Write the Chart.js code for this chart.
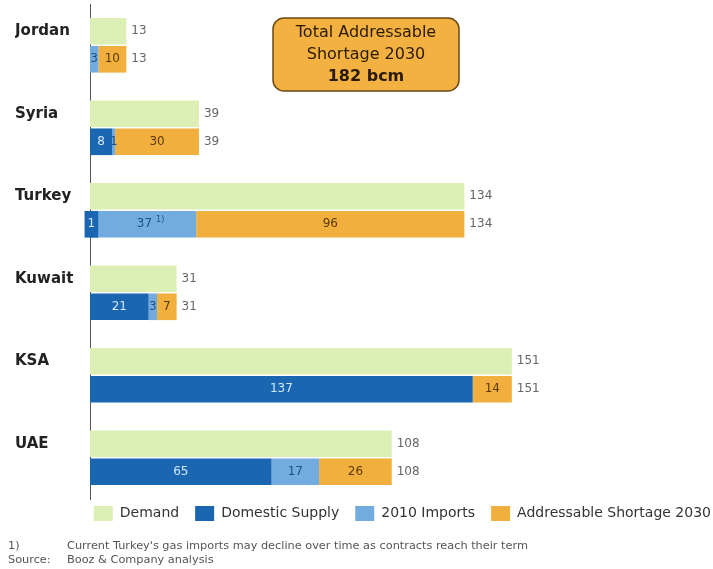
<!DOCTYPE html>
<html>
<head>
<meta charset="utf-8">
<script src="https://cdn.jsdelivr.net/npm/chart.js@4.4.1/dist/chart.umd.min.js"></script>
<style>
  html, body { margin: 0; padding: 0; background: #fff; }
  #wrap { width: 713px; height: 569px; position: relative; }
</style>
</head>
<body>
<div id="wrap"><canvas id="myChart"></canvas></div>
<script>
// Gas demand vs supply (bcm), 2030
const countries = ['Jordan', 'Syria', 'Turkey', 'Kuwait', 'KSA', 'UAE'];
const demand = [13, 39, 134, 31, 151, 108];
const domestic = [0, 8, 1, 21, 137, 65];
const imports2010 = [3, 1, 37, 3, 0, 17];
const shortage = [10, 30, 96, 7, 14, 26];
const boxLines = ['Total Addressable', 'Shortage 2030', '182 bcm'];
const footnotes = [
    ['1)', "Current Turkey's gas imports may decline over time as contracts reach their term"],
    ['Source:', 'Booz & Company analysis']
];

const FONT = "'DejaVu Sans', Verdana, sans-serif";

// inside label colours per dataset (demand has none)
const insideColors = [null, '#d2e8ff', '#1d4f8a', '#5a3a00'];

// Labels inside segments and totals at the end of each bar
const labelPlugin = {
    id: 'barLabels',
    afterLayout(chart) {
        // nudge the legend row (labels.padding also sets the item gaps)
        chart.legend.top -= 9;
        chart.legend.bottom -= 9;
        chart.legend.left += 14;
        chart.legend.right += 14;
    },
    afterDatasetsDraw(chart) {
        const ctx = chart.ctx;
        ctx.save();
        ctx.font = '12px ' + FONT;
        ctx.textBaseline = 'middle';
        for (let i = 0; i < countries.length; i++) {
            // segment labels
            for (let d = 1; d < 4; d++) {
                const bar = chart.getDatasetMeta(d).data[i];
                const v = chart.data.datasets[d].data[i];
                if (!v) continue;
                const left = Math.min(bar.x, bar.base);
                const right = Math.max(bar.x, bar.base);
                const cx = (left + right) / 2;
                const txt = String(v);
                const tw = ctx.measureText(txt).width;
                if (d === 1 && right - left < tw + 2) {
                    // tiny domestic bar: give the label a backing box
                    ctx.fillStyle = chart.data.datasets[d].backgroundColor;
                    ctx.fillRect(cx - tw / 2 - 3, bar.y - bar.height / 2, tw + 6, bar.height);
                }
                ctx.fillStyle = insideColors[d];
                ctx.textAlign = 'center';
                ctx.fillText(txt, cx, bar.y);
                if (d === 2 && countries[i] === 'Turkey') {
                    ctx.font = '8px ' + FONT;
                    ctx.textAlign = 'left';
                    ctx.fillText('1)', cx + tw / 2 + 4, bar.y - 4);
                    ctx.font = '12px ' + FONT;
                }
            }
            // totals
            ctx.fillStyle = '#666';
            ctx.textAlign = 'left';
            const dBar = chart.getDatasetMeta(0).data[i];
            ctx.fillText(String(demand[i]), dBar.x + 5, dBar.y);
            const total = domestic[i] + imports2010[i] + shortage[i];
            const sBar = chart.getDatasetMeta(3).data[i];
            ctx.fillText(String(total), sBar.x + 5, sBar.y);
        }
        ctx.restore();
    },
    afterDraw(chart) {
        const ctx = chart.ctx;
        ctx.save();
        // call-out box
        const bx = 273, by = 18, bw = 186, bh = 73, r = 11;
        ctx.beginPath();
        ctx.moveTo(bx + r, by);
        ctx.arcTo(bx + bw, by, bx + bw, by + bh, r);
        ctx.arcTo(bx + bw, by + bh, bx, by + bh, r);
        ctx.arcTo(bx, by + bh, bx, by, r);
        ctx.arcTo(bx, by, bx + bw, by, r);
        ctx.closePath();
        ctx.fillStyle = '#f2b140';
        ctx.fill();
        ctx.lineWidth = 1.5;
        ctx.strokeStyle = '#6b4a10';
        ctx.stroke();
        ctx.fillStyle = '#2a1a00';
        ctx.textAlign = 'center';
        ctx.textBaseline = 'middle';
        ctx.font = '16px ' + FONT;
        ctx.fillText(boxLines[0], bx + bw / 2, by + 15);
        ctx.fillText(boxLines[1], bx + bw / 2, by + 37);
        ctx.font = 'bold 16px ' + FONT;
        ctx.fillText(boxLines[2], bx + bw / 2, by + 59);
        // footnotes
        ctx.fillStyle = '#555';
        ctx.textAlign = 'left';
        ctx.font = '11.3px ' + FONT;
        footnotes.forEach(function (f, k) {
            ctx.fillText(f[0], 8, 546 + k * 14);
            ctx.fillText(f[1], 67, 546 + k * 14);
        });
        ctx.restore();
    }
};

const data = {
    labels: countries,
    datasets: [
        { label: 'Demand', data: demand, backgroundColor: '#dcefb4', stack: 'demand' },
        { label: 'Domestic Supply', data: domestic, backgroundColor: '#1a66b1', stack: 'supply' },
        { label: '2010 Imports', data: imports2010, backgroundColor: '#72acdf', stack: 'supply' },
        { label: 'Addressable Shortage 2030', data: shortage, backgroundColor: '#f1af3e', stack: 'supply' }
    ]
};

const config = {
    type: 'bar',
    data: data,
    options: {
        indexAxis: 'y',
        responsive: true,
        maintainAspectRatio: false,
        animation: false,
        categoryPercentage: 0.68,
        barPercentage: 0.95,
        layout: { padding: { left: 15, right: 0, top: 4, bottom: 29 } },
        scales: {
            x: {
                stacked: true,
                min: 0,
                max: 223,
                display: false
            },
            y: {
                stacked: true,
                grid: { display: false, drawTicks: false },
                border: { display: true, color: '#555', width: 1 },
                ticks: {
                    crossAlign: 'far',
                    labelOffset: -14,
                    padding: 0,
                    color: '#222',
                    font: { family: FONT, size: 15, weight: 'bold' }
                },
                afterFit: function (scale) {
                    scale.width = 75;
                    scale.paddingTop = 0;
                    scale.paddingBottom = 0;
                }
            }
        },
        plugins: {
            legend: {
                position: 'bottom',
                align: 'end',
                labels: {
                    boxWidth: 19,
                    boxHeight: 15,
                    padding: 16,
                    color: '#333',
                    font: { family: FONT, size: 14 }
                }
            },
            tooltip: { enabled: false }
        }
    },
    plugins: [labelPlugin]
};

var myChart = new Chart(document.getElementById('myChart'), config);
</script>
</body>
</html>
